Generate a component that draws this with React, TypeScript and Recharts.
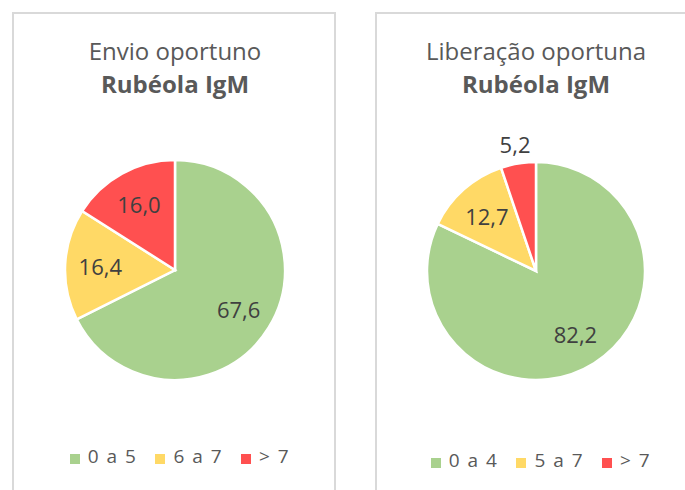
import { PieChart, Pie, Cell, Legend } from "recharts"

const COLORS = ["#A9D18E", "#FFD966", "#FF5050"]

const envioCategories = ["0 a 5", "6 a 7", "> 7"]
const envioValues = [67.6, 16.4, 16.0]

const liberacaoCategories = ["0 a 4", "5 a 7", "> 7"]
const liberacaoValues = [82.2, 12.7, 5.2]

const FONT = "'Open Sans', sans-serif"
const RADIAN = Math.PI / 180

const renderLabel = (props: any) => {
  const { cx, cy, midAngle, outerRadius, value, percent } = props
  // small slices get their label outside, like Excel "best fit"
  const r = percent < 0.08 ? outerRadius + 20 : outerRadius * 0.68
  const x = cx + r * Math.cos(-midAngle * RADIAN)
  const y = cy + r * Math.sin(-midAngle * RADIAN)
  return (
    <text
      x={x}
      y={y}
      fill="#404040"
      fontSize={22}
      fontFamily={FONT}
      textAnchor="middle"
      dominantBaseline="central"
    >
      {Number(value).toFixed(1).replace(".", ",")}
    </text>
  )
}

function Panel({
  left,
  width,
  title,
  subtitle,
  categories,
  values,
  cx,
  cy,
  radius,
  legendTop,
  legendShift,
}: {
  left: number
  width: number
  title: string
  subtitle: string
  categories: string[]
  values: number[]
  cx: number
  cy: number
  radius: number
  legendTop: number
  legendShift: number
}) {
  const data = categories.map((name, i) => ({ name, value: values[i] }))
  return (
    <div style={{ position: "absolute", left, top: 12, width, height: 490 }}>
      <div
        style={{
          position: "absolute",
          inset: 0,
          border: "2px solid #D9D9D9",
          boxSizing: "border-box",
        }}
      />
      <div
        style={{
          position: "absolute",
          left: cx - 150,
          width: 300,
          top: 22,
          textAlign: "center",
          fontFamily: FONT,
          fontSize: 24,
          lineHeight: "33px",
          color: "#595959",
        }}
      >
        <div>{title}</div>
        <div style={{ fontWeight: "bold" }}>{subtitle}</div>
      </div>
      <PieChart
        width={width}
        height={478}
        margin={{ top: 0, right: 0, bottom: 0, left: 0 }}
        style={{ position: "absolute", left: 0, top: 0 }}
      >
        <Pie
          data={data}
          dataKey="value"
          nameKey="name"
          cx={cx}
          cy={cy}
          outerRadius={radius}
          startAngle={90}
          endAngle={-270}
          stroke="#ffffff"
          strokeWidth={2.5}
          label={renderLabel}
          labelLine={false}
          isAnimationActive={false}
        >
          {data.map((entry, index) => (
            <Cell key={`cell-${index}`} fill={COLORS[index % COLORS.length]} />
          ))}
        </Pie>
        <Legend
          iconType="square"
          iconSize={10}
          align="center"
          layout="horizontal"
          wrapperStyle={{ top: legendTop, left: legendShift, width, bottom: "auto" }}
          formatter={(value) => (
            <span
              style={{
                color: "#595959",
                fontFamily: FONT,
                fontSize: 19,
                letterSpacing: 1.5,
                marginLeft: 4,
                marginRight: 8,
              }}
            >
              {value}
            </span>
          )}
        />
      </PieChart>
    </div>
  )
}

export default function App() {
  return (
    <div
      style={{
        position: "absolute",
        left: 0,
        top: 0,
        width: 685,
        height: 490,
        overflow: "hidden",
        background: "#ffffff",
      }}
    >
      <Panel
        left={12}
        width={324}
        title="Envio oportuno"
        subtitle="Rubéola IgM"
        categories={envioCategories}
        values={envioValues}
        cx={163}
        cy={258}
        radius={110}
        legendTop={431}
        legendShift={15}
      />
      <Panel
        left={375}
        width={320}
        title="Liberação oportuna"
        subtitle="Rubéola IgM"
        categories={liberacaoCategories}
        values={liberacaoValues}
        cx={161}
        cy={259}
        radius={109}
        legendTop={435}
        legendShift={15}
      />
    </div>
  )
}
